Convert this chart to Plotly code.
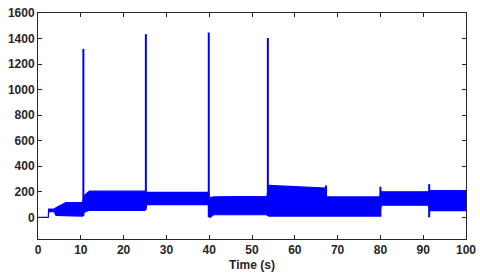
import plotly.graph_objects as go

# Envelope of the dense oscillating signal (time s, upper / lower values)
env_t = [0, 2.4, 2.5, 3.8, 4.2, 6.5, 10.4, 10.8, 12.0, 25.0, 25.4, 39.8, 40.2, 41.0, 53.5,
         53.9, 60.0, 67.2, 67.4, 79.8, 80.2, 91.2, 91.7, 100]
env_upper = [0, 0, 65, 65, 75, 115, 115, 170, 205, 205, 195, 195, 150, 160, 165,
             250, 240, 230, 160, 160, 200, 200, 210, 210]
env_lower = [0, 0, 45, 45, 15, 10, 10, 40, 55, 55, 100, 100, 0, 20, 20,
             10, 10, 10, 10, 10, 95, 95, 52, 52]

# Transient spikes
spike_t = [10.6, 25.2, 39.9, 53.7, 67.3, 80.0, 91.4]
spike_low = [10, 60, 0, 10, 10, 5, 0]
spike_high = [1320, 1435, 1448, 1405, 250, 240, 260]

x_ticks = list(range(0, 101, 10))
y_ticks = list(range(0, 1601, 200))

blue = "#0000FF"
axc = "#262626"

fig = go.Figure()
poly_x = env_t + env_t[::-1]
poly_y = env_upper + env_lower[::-1]
fig.add_trace(go.Scatter(x=poly_x, y=poly_y, mode="lines", fill="toself",
                         fillcolor=blue, line=dict(color=blue, width=1.2),
                         hoverinfo="skip", showlegend=False))
sx, sy = [], []
for t, lo, hi in zip(spike_t, spike_low, spike_high):
    sx += [t, t, None]
    sy += [lo, hi, None]
fig.add_trace(go.Scatter(x=sx, y=sy, mode="lines", line=dict(color=blue, width=2),
                         showlegend=False, hoverinfo="skip"))

font = dict(family="Arial, Liberation Sans, sans-serif", size=12, color=axc, weight="bold")
fig.update_layout(
    width=480, height=280,
    margin=dict(l=38, r=14, t=13, b=41),
    paper_bgcolor="white", plot_bgcolor="white",
    font=font,
    xaxis=dict(range=[0, 100], tickvals=x_ticks, showgrid=False, zeroline=False,
               showline=True, mirror="ticks", linecolor=axc, linewidth=1,
               ticks="inside", ticklen=4, tickcolor=axc, tickfont=font, automargin=False,
               ticklabeloverflow="allow",
               title=dict(text="Time (s)", font=font, standoff=4)),
    yaxis=dict(range=[-170, 1601], tickvals=y_ticks, showgrid=False, zeroline=False,
               showline=True, mirror="ticks", linecolor=axc, linewidth=1,
               ticks="inside", ticklen=4, tickcolor=axc, tickfont=font, automargin=False,
               ticklabeloverflow="allow"),
)
fig.write_html("out.html", config={"displayModeBar": False},
               post_script="document.body.style.margin='0';document.body.style.overflow='hidden';")
